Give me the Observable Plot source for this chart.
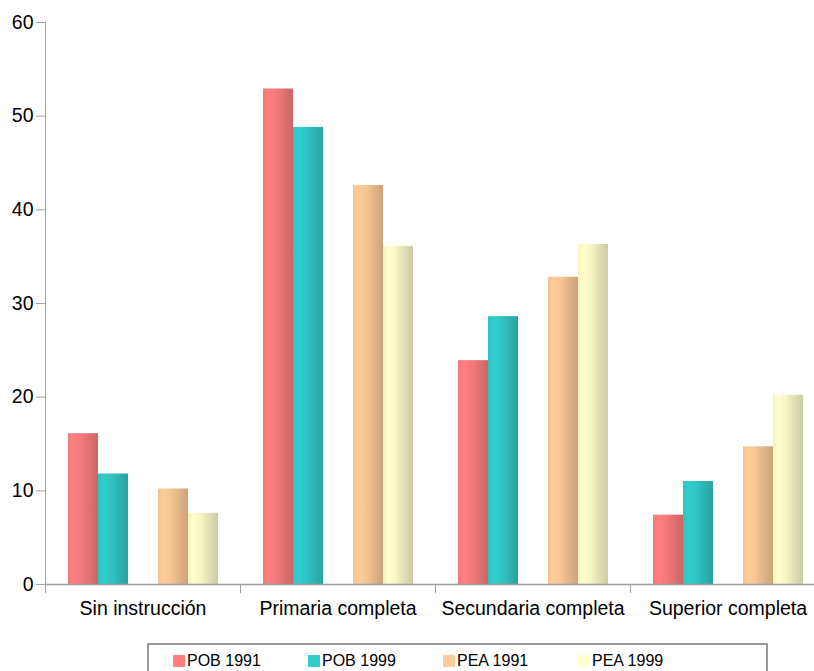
<!DOCTYPE html>
<html>
<head>
<meta charset="utf-8">
<script src="https://cdn.jsdelivr.net/npm/d3@7"></script>
<script src="https://cdn.jsdelivr.net/npm/@observablehq/plot@0.6"></script>
<style>
  html, body { margin: 0; padding: 0; background: #fff; }
  #wrap { position: relative; width: 814px; height: 671px; overflow: hidden; font-family: "Liberation Sans", Arial, sans-serif; }
  #chart { position: absolute; left: 0; top: 0; width: 825px; }
  #chart svg { max-width: none !important; }
  #legend { position: absolute; left: 147px; top: 643px; width: 621px; height: 40px; border: 2px solid #9a9a9a; box-sizing: border-box; padding-left: 24px; padding-top: 7px; font-size: 16px; color: #000; white-space: nowrap; }
  #legend .item { display: inline-block; width: 135px; line-height: 18px; }
  #legend .sw { display: inline-block; width: 12px; height: 12px; margin-right: 2px; vertical-align: -1px; }
</style>
</head>
<body>
<div id="wrap">
  <div id="chart"></div>
  <div id="legend"></div>
</div>
<script>
// ---- data ----
const categories = ["Sin instrucción", "Primaria completa", "Secundaria completa", "Superior completa"];
const seriesNames = ["POB 1991", "POB 1999", "PEA 1991", "PEA 1999"];
const pob1991 = [16.1, 52.9, 23.9, 7.4];
const pob1999 = [11.8, 48.8, 28.6, 11.0];
const pea1991 = [10.2, 42.6, 32.8, 14.7];
const pea1999 = [7.6, 36.1, 36.3, 20.2];
const yTicks = [0, 10, 20, 30, 40, 50, 60];
const seriesColors = ["#ff7f7f", "#33cccc", "#ffcc99", "#ffffcc"];

// slot layout inside each category: an empty slot between POB and PEA
const slots = ["POB 1991", "POB 1999", "", "PEA 1991", "PEA 1999"];

const seriesValues = [pob1991, pob1999, pea1991, pea1999];
const rows = [];
categories.forEach((c, i) => {
  seriesNames.forEach((s, k) => rows.push({category: c, series: s, value: seriesValues[k][i]}));
});

const gradIds = seriesNames.map((_, k) => `grad${k}`);

const W = 825; // plot wider than the window; the last column is clipped, as in the original
const chart = Plot.plot({
  width: W,
  height: 630,
  marginLeft: 45,
  marginRight: 0,
  marginTop: 22,
  marginBottom: 46,
  style: {fontFamily: "'Liberation Sans', Arial, sans-serif", fontSize: "19.5px", color: "#000", background: "transparent", maxWidth: "none"},
  fx: {domain: categories, padding: 0, label: null},
  x: {domain: slots, paddingInner: 0, paddingOuter: 0.72, axis: null},
  y: {domain: [0, 60], label: null},
  color: {type: "ordinal", domain: seriesNames, range: gradIds.map(id => `url(#${id})`)},
  marks: [
    Plot.barY(rows, {fx: "category", x: "series", y: "value", fill: "series", inset: 0}),
    Plot.ruleY([0], {stroke: "#a0a0a0", strokeWidth: 1.3}),
    Plot.axisY({ticks: yTicks, tickSize: 9, tickPadding: 3, stroke: "#a0a0a0", fill: "#000", fontSize: 19.5, tickFormat: d => d}),
    Plot.frame({anchor: "left", stroke: "#a0a0a0", facetAnchor: "left"}),
    Plot.axisFx({anchor: "bottom", tickSize: 0, tickPadding: 17, fontSize: 19.5, fill: "#000", label: null}),
    Plot.axisFx({anchor: "bottom", tickSize: 9, text: null, stroke: "#a0a0a0", label: null, dx: -(W - 45) / categories.length / 2})
  ]
});

// cylinder-like shading gradients
const svg = d3.select(chart);
const defs = svg.insert("defs", ":first-child");
seriesColors.forEach((col, k) => {
  const base = d3.rgb(col);
  const g = defs.append("linearGradient").attr("id", gradIds[k]).attr("x1", "0").attr("x2", "1").attr("y1", "0").attr("y2", "0");
  const stops = [[0, 0.95], [0.18, 1.0], [0.4, 0.97], [0.7, 0.88], [1, 0.8]];
  stops.forEach(([o, f]) => {
    g.append("stop").attr("offset", o).attr("stop-color", d3.rgb(base.r * f, base.g * f, base.b * f).formatHex());
  });
});

document.getElementById("chart").appendChild(chart);

// legend
const legend = d3.select("#legend");
seriesNames.forEach((s, k) => {
  const it = legend.append("span").attr("class", "item");
  it.append("span").attr("class", "sw").style("background", seriesColors[k]);
  it.append("span").text(s);
});
</script>
</body>
</html>
